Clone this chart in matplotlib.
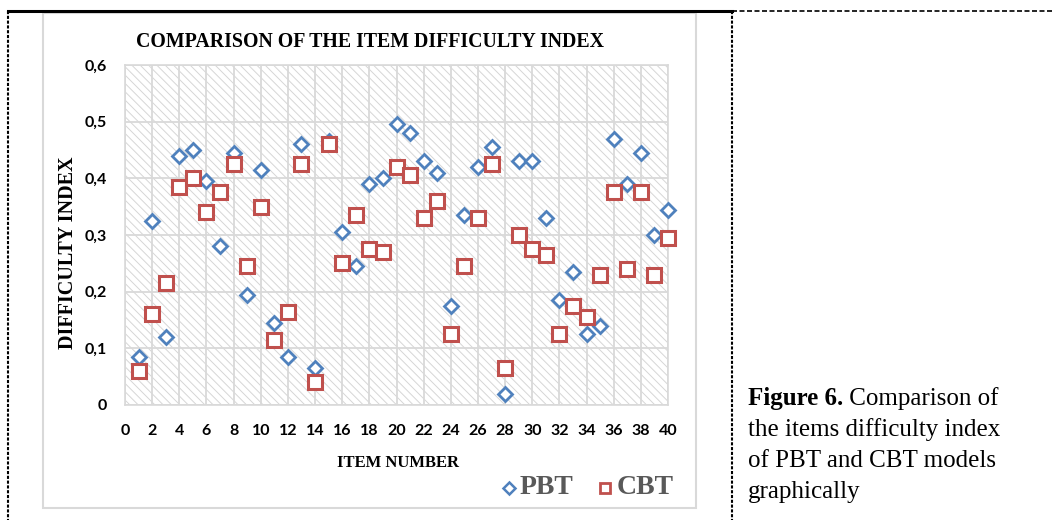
import numpy as np
import matplotlib
matplotlib.use("Agg")
import matplotlib.pyplot as plt
from matplotlib.patches import Rectangle
from matplotlib.lines import Line2D

# --- Data ---
items = np.arange(1, 41)
pbt = [0.085, 0.325, 0.12, 0.44, 0.45, 0.395, 0.28, 0.445, 0.195, 0.415,
       0.145, 0.085, 0.46, 0.065, 0.465, 0.305, 0.245, 0.39, 0.40, 0.495,
       0.48, 0.43, 0.41, 0.175, 0.335, 0.42, 0.455, 0.02, 0.43, 0.43,
       0.33, 0.185, 0.235, 0.125, 0.14, 0.47, 0.39, 0.445, 0.30, 0.345]
cbt = [0.06, 0.16, 0.215, 0.385, 0.40, 0.34, 0.375, 0.425, 0.245, 0.35,
       0.115, 0.165, 0.425, 0.04, 0.46, 0.25, 0.335, 0.275, 0.27, 0.42,
       0.405, 0.33, 0.36, 0.125, 0.245, 0.33, 0.425, 0.065, 0.30, 0.275,
       0.265, 0.125, 0.175, 0.155, 0.23, 0.375, 0.24, 0.375, 0.23, 0.295]
x_ticks = np.arange(0, 41, 2)
y_ticks = [0, 0.1, 0.2, 0.3, 0.4, 0.5, 0.6]
y_labels = ["0", "0,1", "0,2", "0,3", "0,4", "0,5", "0,6"]

W, H = 1054, 520
blue = "#4F81BD"
red = "#C0504D"
grid_c = "#d9d9d9"
serif = ["Liberation Serif", "DejaVu Serif"]
sans = ["Lato", "DejaVu Sans"]

plt.rcParams["hatch.linewidth"] = 0.7

fig = plt.figure(figsize=(W / 100, H / 100), dpi=100)

def fx(px):
    return px / W

def fy(py):
    return 1 - py / H

# --- page frame (table borders) ---
fig.add_artist(Line2D([fx(8), fx(732)], [fy(11), fy(11)], color="black", lw=2.2))
fig.add_artist(Line2D([fx(732), fx(1054)], [fy(11), fy(11)], color="black", lw=1.2, ls=(0, (3, 1.5))))
for xp in (8, 732):
    fig.add_artist(Line2D([fx(xp), fx(xp)], [fy(11), fy(520)], color="black", lw=1.5, ls=(0, (1.5, 0.8))))

# chart area box
fig.add_artist(Rectangle((fx(43), fy(508)), fx(696 - 43), (508 - 13) / H,
                         fill=False, edgecolor=grid_c, lw=1.5))

# --- plot area ---
ax = fig.add_axes([fx(125), fy(405), fx(668 - 125), (405 - 65) / H])
ax.set_xlim(0, 40)
ax.set_ylim(0, 0.6)
ax.add_patch(Rectangle((0, 0), 1, 1, transform=ax.transAxes, facecolor="white",
                       edgecolor="#d6d6d6", hatch="\\\\\\\\", lw=0, zorder=0))
for s in ax.spines.values():
    s.set_color(grid_c)
    s.set_linewidth(1.2)
ax.set_xticks(x_ticks)
ax.set_yticks(y_ticks)
ax.set_yticklabels(y_labels)
ax.grid(True, color=grid_c, lw=1.3, zorder=1)
ax.set_axisbelow(True)
ax.tick_params(length=0, pad=14)
for lab in ax.get_xticklabels() + ax.get_yticklabels():
    lab.set_fontfamily(sans)
    lab.set_fontweight("bold")
    lab.set_fontsize(11.5)
ax.tick_params(axis="y", pad=13)

ax.plot(items, pbt, ls="none", marker="D", ms=7.5, mfc="white", mec=blue,
        mew=2.0, clip_on=False, zorder=3)
ax.plot(items, cbt, ls="none", marker="s", ms=9.5, mfc="white", mec=red,
        mew=2.2, clip_on=False, zorder=3)

# --- titles ---
fig.text(fx(370), fy(42), "COMPARISON OF THE ITEM DIFFICULTY INDEX", family=serif,
         weight="bold", fontsize=14.3, ha="center", va="center")
fig.text(fx(398), fy(463), "ITEM NUMBER", family=serif, weight="bold",
         fontsize=12, ha="center", va="center")
fig.text(fx(68), fy(253), "DIFFICULTY INDEX", family=serif, weight="bold",
         fontsize=14.5, ha="center", va="center", rotation=90)

# --- legend ---
fig.add_artist(Line2D([fx(509)], [fy(488)], marker="D", ms=6, mfc="white",
                      mec=blue, mew=1.8, ls="none"))
fig.text(fx(520), fy(488), "PBT", family=serif, weight="bold", fontsize=20,
         color="#595959", ha="left", va="center")
fig.add_artist(Line2D([fx(605)], [fy(488)], marker="s", ms=7.5, mfc="white",
                      mec=red, mew=2.0, ls="none"))
fig.text(fx(617), fy(488), "CBT", family=serif, weight="bold", fontsize=20,
         color="#595959", ha="left", va="center")

# --- caption ---
cap_x = fx(748)
fig.canvas.draw()
bold = fig.text(cap_x, fy(405), "Figure 6.", family=serif, weight="bold",
                fontsize=18, va="baseline")
bb = bold.get_window_extent(fig.canvas.get_renderer())
fig.text(bb.x1 / W, fy(405), " Comparison of", family=serif, fontsize=18, va="baseline")
for i, line in enumerate(["the items difficulty index", "of PBT and CBT models", "graphically"]):
    fig.text(cap_x, fy(405 + 31 * (i + 1)), line, family=serif, fontsize=18, va="baseline")

fig.savefig("out.png", dpi=100)
